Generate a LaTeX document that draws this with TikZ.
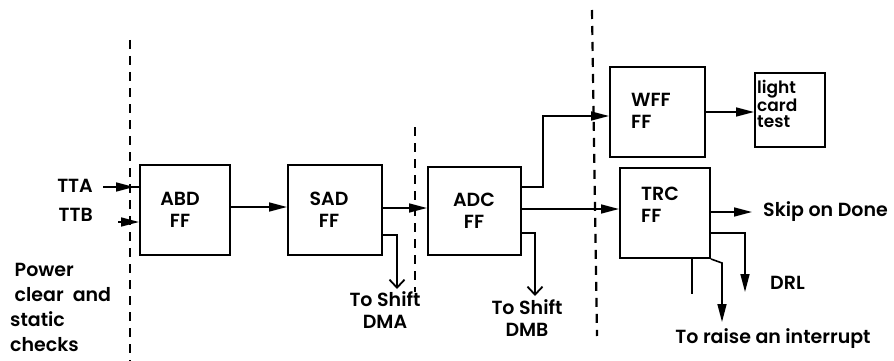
\documentclass[tikz,border=0pt]{standalone}
\usepackage{fontspec}
\setmainfont{Poppins}
\newfontfamily\lblfont{Poppins SemiBold}
\usetikzlibrary{arrows.meta}
\tikzset{
  box/.style={draw, line width=2pt, minimum width=#1, inner sep=0pt},
  lbl/.style={font=\lblfont\fontsize{19}{22}\selectfont, inner sep=0pt, align=center},
  lbll/.style={lbl, align=left},
  conn/.style={line width=1.6pt},
  tip/.style={conn, -{Triangle[length=18pt,width=9pt]}},
  barb/.style={conn, -{Straight Barb[length=8pt,width=15pt,line width=1.8pt]}},
  sep/.style={line width=2.2pt, dash pattern=on 9pt off 7pt},
}
\begin{document}
\begin{tikzpicture}[x=1pt,y=-1pt]
\useasboundingbox (0,0) rectangle (894,361);
% separators
\draw[sep] (130,40) -- (130,361);
\draw[sep] (415,127) -- (415,292);
\draw[sep] (592,10) -- (597,336);
% boxes
\node[box=90pt, minimum height=90pt] (abd) at (185,210) {};
\node[box=94pt, minimum height=90pt] (sad) at (335,210) {};
\node[box=93pt, minimum height=88pt] (adc) at (474.5,211) {};
\node[box=95pt, minimum height=90pt] (wff) at (657.5,112) {};
\node[box=90pt, minimum height=90pt] (trc) at (665,213) {};
\node[box=70pt, minimum height=74pt] (lct) at (790,110) {};
% box labels
\node[lbl] (abdt) at (180,210) {ABD\\FF};
\node[lbl] (sadt) at (329,210) {SAD\\FF};
\node[lbl] (adct) at (474,211) {ADC\\FF};
\node[lbll, anchor=west] (wfft) at (631,111) {WFF\\FF};
\node[lbll, anchor=west] (trct) at (641,205) {TRC\\FF};
\node[font=\lblfont\fontsize{17}{16}\selectfont, inner sep=0pt, align=left, anchor=north west] (lctt) at (757,80) {light\\card\\test};
% inputs
\node[lbl, anchor=east] (tta) at (93,186) {TTA};
\node[lbl, anchor=east] (ttb) at (93,215) {TTB};
\coordinate (ttaS) at (103,187);
\coordinate (ttaM) at (134,187);
\coordinate (ttbS) at (118,222);
\draw[conn] (ttaS) -- (abd.west |- ttaS);
\draw[tip] (ttaS) -- (ttaM);
\draw[tip] (ttbS) -- (abd.west |- ttbS);
\node[font=\lblfont\fontsize{19}{25}\selectfont, inner sep=0pt, align=left, anchor=north west] (pwr) at (10,263) {\ Power\\\ clear \ and\\static\\checks};
% chain
\draw[tip] (abd.east |- 0,207) -- (sad.west |- 0,207);
\draw[tip] (sad.east |- 0,208) -- (adc.west |- 0,208);
% DMA
\coordinate (dmaC) at (397,235);
\coordinate (dmaE) at (397,289);
\draw[barb] (sad.east |- dmaC) -- (dmaC) -- (dmaE);
\node[lbl, anchor=north] (dmat) at (385,291) {To Shift\\DMA};
% DMB
\coordinate (dmbC) at (535,233);
\coordinate (dmbE) at (535,296);
\draw[barb] (adc.east |- dmbC) -- (dmbC) -- (dmbE);
\node[lbl, anchor=north] (dmbt) at (527,299) {To Shift\\DMB};
% to WFF
\coordinate (w1) at (543,187);
\coordinate (w2) at (543,116);
\draw[tip] (adc.east |- w1) -- (w1) -- (w2) -- (wff.west |- w2);
% to TRC
\draw[tip] (adc.east |- 0,209) -- (trc.west |- 0,209);
% WFF -> light card
\draw[tip] (wff.east |- 0,112) -- (lct.west |- 0,112);
% skip on done
\coordinate (sk) at (752,212);
\draw[tip] (trc.east |- sk) -- (sk);
\node[lbl, anchor=west] (skt) at (763,212) {Skip on Done};
% DRL
\coordinate (d1) at (745,233);
\coordinate (d2) at (745,292);
\draw[tip] (trc.east |- d1) -- (d1) -- (d2);
\node[lbl, anchor=west] (drlt) at (770,283) {DRL};
% stub
\coordinate (st) at (692,294);
\draw[conn] (trc.south -| st) -- (st);
% interrupt
\coordinate (i1) at (722,263);
\coordinate (i2) at (722,322);
\draw[tip] (trc.south east) -- (i1) -- (i2);
\node[lbl, anchor=north] (intt) at (773,328) {To raise an interrupt};
\end{tikzpicture}
\end{document}
